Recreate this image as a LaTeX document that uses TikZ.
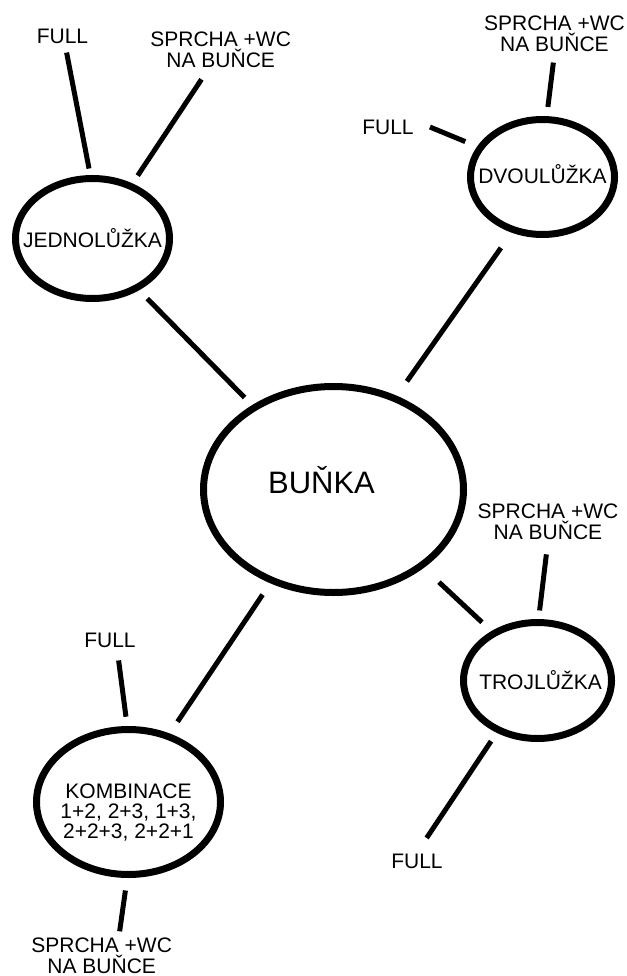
\documentclass[tikz,border=0pt]{standalone}
\usepackage{fontspec}
\setmainfont{Liberation Sans}
\usetikzlibrary{shapes.geometric}

\begin{document}
\begin{tikzpicture}[x=1pt, y=-1pt,
    bubble/.style={draw=black, ellipse, line width=7pt, inner sep=0pt},
    tag/.style={font=\fontsize{21}{21}\selectfont, align=center, inner sep=1pt},
    link/.style={line width=5pt, black},
    every label/.style={font=\fontsize{21}{20}\selectfont, align=center, inner sep=1pt}
]
\useasboundingbox (0,0) rectangle (626,976);
% centre
\node[bubble, minimum width=260pt, minimum height=206pt,
    label={[xshift=-12pt, yshift=9pt, font=\fontsize{31}{31}\selectfont]center:BUŇKA}] (bunka) at (333.5,489.5) {};
% room types
\node[bubble, minimum width=154pt, minimum height=120pt, label={center:JEDNOLŮŽKA}] (jedno) at (92.5,238.5) {};
\node[bubble, minimum width=144pt, minimum height=115pt, label={[yshift=3pt]center:DVOULŮŽKA}] (dvou) at (542.5,177) {};
\node[bubble, minimum width=148pt, minimum height=116pt, label={[xshift=3pt]center:TROJLŮŽKA}] (troj) at (537.5,680.5) {};
\node[bubble, minimum width=184pt, minimum height=145pt,
    label={[yshift=-11pt]center:KOMBINACE\\1+2, 2+3, 1+3,\\2+2+3, 2+2+1}] (komb) at (128.5,802) {};
% leaves
\node[tag] (jfull) at (62.5,36.3) {FULL};
\node[tag] (jsprcha) at (220.7,50) {SPRCHA +WC\\NA BUŇCE};
\node[tag] (dfull) at (388,127) {FULL};
\node[tag] (dsprcha) at (554.5,34.2) {SPRCHA +WC\\NA BUŇCE};
\node[tag] (tsprcha) at (548,521.7) {SPRCHA +WC\\NA BUŇCE};
\node[tag] (tfull) at (417,861) {FULL};
\node[tag] (kfull) at (110,640.8) {FULL};
\node[tag] (ksprcha) at (101.7,955.5) {SPRCHA +WC\\NA BUŇCE};
% links
\draw[link, shorten <=7.9pt, shorten >=6.6pt] (jfull.-73) -- (jedno.92);
\draw[link, shorten <=12.3pt, shorten >=9.4pt] (jsprcha.-123) -- (jedno.54);
\draw[link, shorten <=11.7pt, shorten >=10.7pt] (jedno.-48) -- (bunka.134);
\draw[link, shorten <=16.3pt, shorten >=12.8pt] (dfull.13) -- (dvou.155);
\draw[link, shorten <=9.3pt, shorten >=9.2pt] (dsprcha.south) -- (dvou.86);
\draw[link, shorten <=18.6pt, shorten >=17.6pt] (dvou.-119) -- (bunka.56);
\draw[link, shorten <=20.8pt, shorten >=12.9pt] (bunka.-41) -- (troj.133);
\draw[link, shorten <=13.6pt, shorten >=8.6pt] (tsprcha.south) -- (troj.89);
\draw[link, shorten <=10.1pt, shorten >=17.4pt] (troj.-128) -- (tfull.north);
\draw[link, shorten <=13.7pt, shorten >=14.1pt] (bunka.-124) -- (komb.59);
\draw[link, shorten <=11.2pt, shorten >=9.4pt] (kfull.-50) -- (komb.91);
\draw[link, shorten <=12.6pt, shorten >=5.1pt] (komb.-91) -- (ksprcha.48);
\end{tikzpicture}
\end{document}
